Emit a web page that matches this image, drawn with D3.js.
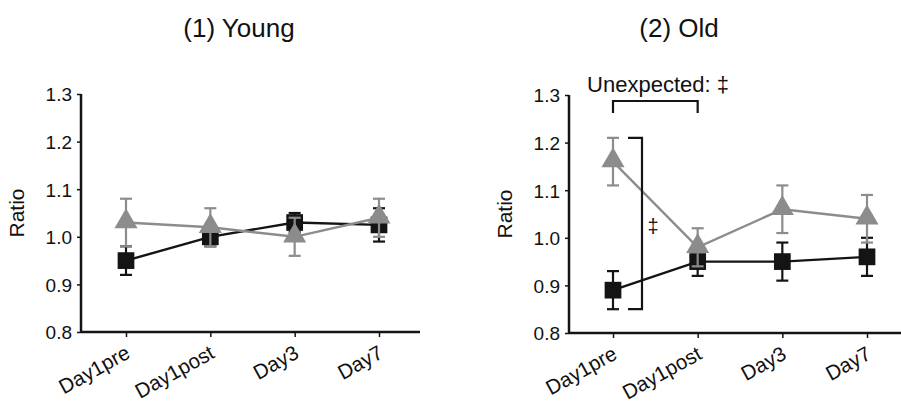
<!DOCTYPE html>
<html><head><meta charset="utf-8">
<script src="https://cdn.jsdelivr.net/npm/d3@7"></script>
<style>body{margin:0;background:#fff}svg{display:block}text{font-family:"Liberation Sans",Arial,sans-serif}</style>
</head><body><svg id="c" width="901" height="404"></svg>
<script>
const categories = ["Day1pre","Day1post","Day3","Day7"];
const yTicks = [0.8,0.9,1.0,1.1,1.2,1.3];
const titles = ["(1) Young","(2) Old"];
// Young
const youngBlack = [0.95,1.00,1.03,1.025];
const youngBlackErr = [0.03,0.02,0.02,0.035];
const youngGray = [1.03,1.02,1.00,1.04];
const youngGrayErr = [0.05,0.04,0.04,0.04];
// Old
const oldBlack = [0.89,0.95,0.95,0.96];
const oldBlackErr = [0.04,0.03,0.04,0.04];
const oldGray = [1.16,0.98,1.06,1.04];
const oldGrayErr = [0.05,0.04,0.05,0.05];

const svg = d3.select("#c");
const BLACK = "#141414", GRAY = "#8c8c8c";
const FONT = "Liberation Sans, Arial, sans-serif";

const panels = [
  {axisX:81, xEnd:420, x0:126, x1:379, yTop:94, yBot:332, title:titles[0], tx:239, black:youngBlack, bErr:youngBlackErr, gray:youngGray, gErr:youngGrayErr},
  {axisX:569, xEnd:901, x0:613, x1:867, yTop:95, yBot:333, title:titles[1], tx:679, black:oldBlack, bErr:oldBlackErr, gray:oldGray, gErr:oldGrayErr}
];

panels.forEach((p,pi)=>{
  const g = svg.append("g");
  const x = d3.scalePoint().domain(categories).range([p.x0,p.x1]);
  const y = d3.scaleLinear().domain([0.8,1.3]).range([p.yBot,p.yTop]);

  g.append("text").attr("x",p.tx).attr("y",37).attr("text-anchor","middle")
    .attr("font-size",26).attr("fill","#111").text(p.title);

  // y axis
  const ya = g.append("g").attr("transform",`translate(${p.axisX},0)`)
    .call(d3.axisLeft(y).tickValues(yTicks).tickFormat(d3.format(".1f")).tickSize(4).tickPadding(5));
  ya.attr("font-size",19).attr("font-family",FONT);
  ya.select(".domain").attr("stroke",BLACK).attr("stroke-width",2.5).attr("d",`M0,${p.yTop}V${p.yBot}`);
  ya.selectAll(".tick line").attr("stroke",BLACK).attr("stroke-width",1.5);
  ya.selectAll("text").attr("fill","#111").attr("dy","0.36em");

  // x axis
  const xa = g.append("g").attr("transform",`translate(0,${p.yBot})`)
    .call(d3.axisBottom(x).tickSize(5).tickPadding(6));
  xa.attr("font-size",20.5).attr("font-family",FONT);
  xa.select(".domain").attr("stroke",BLACK).attr("stroke-width",2.5).attr("d",`M${p.axisX},0H${p.xEnd}`);
  xa.selectAll(".tick line").attr("stroke",BLACK).attr("stroke-width",1.5);
  xa.selectAll("text").attr("fill","#111")
    .attr("text-anchor","end").attr("x",0).attr("y",0).attr("dy","0").attr("transform","translate(5,25) rotate(-29)");

  // y label
  g.append("text").attr("transform",`translate(${p.axisX-57},${(p.yTop+p.yBot)/2}) rotate(-90)`)
    .attr("text-anchor","middle").attr("font-size",21).attr("fill","#111").text("Ratio");

  const line = d3.line().x((d,i)=>x(categories[i])).y(d=>y(d));
  function series(vals, errs, color, shape){
    g.append("path").datum(vals).attr("d",line).attr("fill","none").attr("stroke",color).attr("stroke-width",2.4);
    const eb = g.append("g");
    vals.forEach((v,i)=>{
      const cx = x(categories[i]);
      eb.append("line").attr("x1",cx).attr("x2",cx).attr("y1",y(v-errs[i])).attr("y2",y(v+errs[i])).attr("stroke",color).attr("stroke-width",2.2);
      [v-errs[i],v+errs[i]].forEach(e=>{
        eb.append("line").attr("x1",cx-6).attr("x2",cx+6).attr("y1",y(e)).attr("y2",y(e)).attr("stroke",color).attr("stroke-width",2.2);
      });
    });
    const sym = shape==="square" ? d3.symbol().type(d3.symbolSquare).size(280) : d3.symbol().type(d3.symbolTriangle).size(230);
    g.selectAll(null).data(vals).enter().append("path")
      .attr("d",sym).attr("fill",color)
      .attr("transform",(d,i)=>`translate(${x(categories[i])},${y(d)+(shape==="square"?0:-1)})`);
  }
  series(p.black,p.bErr,BLACK,"square");
  series(p.gray,p.gErr,GRAY,"triangle");

  if(pi===1){
    // vertical significance bracket at Day1pre
    const bx = x(categories[0])+29;
    const yt = y(p.gray[0]+p.gErr[0]), yb = y(p.black[0]-p.bErr[0]);
    g.append("path").attr("d",`M${bx-14},${yt}H${bx}V${yb}H${bx-14}`).attr("fill","none").attr("stroke",BLACK).attr("stroke-width",2.2);
    g.append("text").attr("x",bx+11).attr("y",(yt+yb)/2+9).attr("font-size",20).attr("fill","#111").attr("text-anchor","middle").text("‡");
    // top bracket
    const xa0 = x(categories[0]), xa1 = x(categories[1]);
    const by = 101;
    g.append("path").attr("d",`M${xa0},${by+12}V${by}H${xa1}V${by+12}`).attr("fill","none").attr("stroke",BLACK).attr("stroke-width",2.2);
    g.append("text").attr("x",658).attr("y",92).attr("text-anchor","middle").attr("font-size",22).attr("fill","#111").text("Unexpected: ‡");
  }
});
</script></body></html>
